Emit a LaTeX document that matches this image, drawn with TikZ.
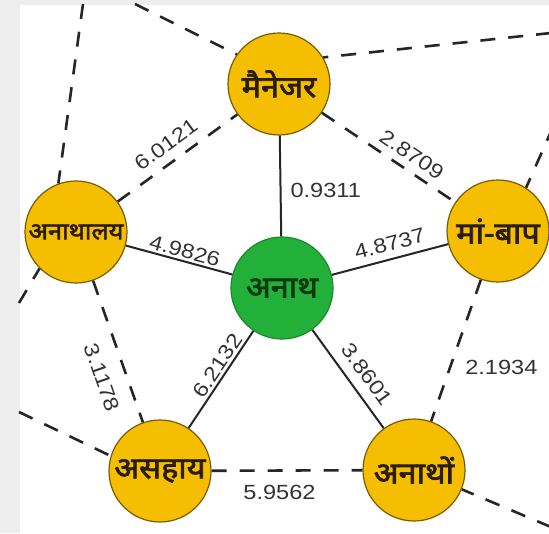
\documentclass[tikz,border=0pt]{standalone}
\usepackage{fontspec}
\setmainfont{Liberation Sans}
\newfontfamily\deva[Script=Devanagari,FakeBold=2.4]{Noto Sans}
\definecolor{bggray}{HTML}{EEEEEE}
\definecolor{gold}{HTML}{F6BE00}
\definecolor{goldborder}{HTML}{7A5C00}
\definecolor{hubgreen}{HTML}{22B03A}
\definecolor{hubborder}{HTML}{1A8A2C}
\definecolor{devtext}{HTML}{2A1E00}
\definecolor{hubtext}{HTML}{0E3A10}
\definecolor{edgecol}{HTML}{262626}
\definecolor{labelcol}{HTML}{333333}
\newcommand\wtxt[1]{\scalebox{1.15}[1]{#1}}
\newcommand\dtxt[1]{\scalebox{1.08}[1]{#1}}
\begin{document}
\begin{tikzpicture}[x=1pt,y=-1pt,
  nd/.style={circle, minimum size=102pt, inner sep=0pt, draw=goldborder, line width=1.2pt,
    fill=gold, text=devtext, font=\deva\fontsize{30}{30}\selectfont},
  hub/.style={nd, fill=hubgreen, draw=hubborder, text=hubtext},
  solidedge/.style={draw=edgecol, line width=2pt},
  dashedge/.style={draw=edgecol, line width=2.6pt, dash pattern=on 15pt off 13pt},
  wt/.style={inner sep=0pt, font=\fontsize{20.5}{20.5}\selectfont, text=labelcol}
]
\fill[bggray] (0,0) rectangle (549,533);
\fill[white] (20,5) rectangle (549,533);
\useasboundingbox (0,0) rectangle (549,533);

% nodes
\node[nd]  (M) at (279,84)  {\dtxt{मैनेजर}};
\node[nd, font=\deva\fontsize{23.5}{23.5}\selectfont] (L) at (76,232) {\dtxt{अनाथालय}};
\node[nd]  (P) at (498,231) {\dtxt{मां-बाप}};
\node[hub] (A) at (282,288) {\dtxt{अनाथ}};
\node[nd]  (S) at (160,471) {\dtxt{असहाय}};
\node[nd]  (T) at (414,470) {\dtxt{अनाथों}};

% free ends of edges leaving the picture
\coordinate (o1) at (83,4);
\coordinate (o2) at (19,303);
\coordinate (o3) at (135,4);
\coordinate (o4) at (551,33);
\coordinate (o5) at (553,127);
\coordinate (o6) at (19,412);
\coordinate (o7) at (551,527);

% outer dashed edges
\draw[dashedge] (o1) -- (L.110);
\draw[dashedge] (o2) -- (L.225);
\draw[dashedge] (o3) -- (M.145);
\draw[dashedge] (o4) -- (M.31);
\draw[dashedge] (o5) -- (P.57);
\draw[dashedge] (o6) -- (S.163);
\draw[dashedge] (o7) -- (T.-22);

% dashed edges between outer nodes
\draw[dashedge] (L) -- node[wt, pos=0.49, sloped, above=9pt] {\wtxt{6.0121}} (M);
\draw[dashedge] (M) -- node[wt, pos=0.61, sloped, above=7pt] {\wtxt{2.8709}} (P);
\draw[dashedge] (L) -- node[wt, pos=0.63, sloped, below=15pt] {\wtxt{3.1178}} (S);
\draw[dashedge] (P) -- node[wt, pos=0.62, right=14pt] {\wtxt{2.1934}} (T);
\draw[dashedge] (S) -- node[wt, pos=0.45, below=13pt] {\wtxt{5.9562}} (T);

% solid edges from the hub
\draw[solidedge] (A) -- node[wt, pos=0.46, right=9pt] {\wtxt{0.9311}} (M);
\draw[solidedge] (L) -- node[wt, pos=0.53, sloped, above=2pt] {\wtxt{4.9826}} (A);
\draw[solidedge] (A) -- node[wt, pos=0.53, sloped, above=7pt] {\wtxt{4.8737}} (P);
\draw[solidedge] (S) -- node[wt, pos=0.58, sloped, above=2pt] {\wtxt{6.2132}} (A);
\draw[solidedge] (A) -- node[wt, pos=0.56, sloped, above=10pt] {\wtxt{3.8601}} (T);
\end{tikzpicture}
\end{document}
